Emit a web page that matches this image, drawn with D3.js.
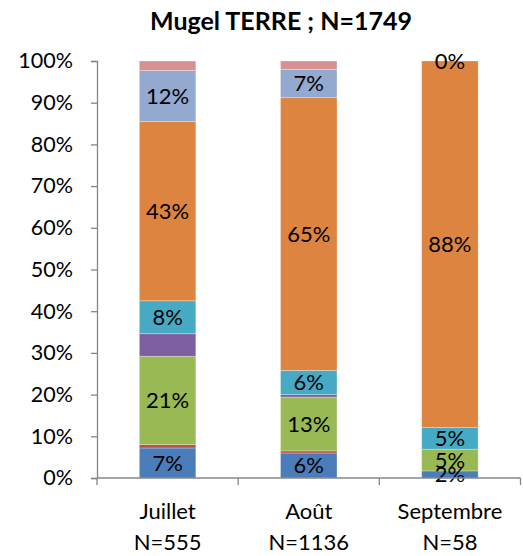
<!DOCTYPE html>
<html>
<head>
<meta charset="utf-8">
<script src="https://cdn.jsdelivr.net/npm/d3@7"></script>
<style>
  body { margin: 0; background: #fff; }
  svg { display: block; font-family: Lato, "Noto Sans", sans-serif; }
</style>
</head>
<body>
<svg id="chart"></svg>
<script>
// categories
const months = ["Juillet", "Août", "Septembre"]
const counts = ["N=555", "N=1136", "N=58"]

// series values (% of each month), bottom to top
const bleu      = [7.2, 6.0, 1.7]
const rouge     = [0.8, 0.5, 0]
const vert      = [21.2, 12.9, 5.2]
const violet    = [5.4, 0.6, 0]
const turquoise = [7.9, 5.8, 5.2]
const orange    = [43.0, 65.4, 87.9]
const bleuClair = [12.2, 6.8, 0]
const rose      = [2.3, 2.0, 0]

const yTicks = [0, 10, 20, 30, 40, 50, 60, 70, 80, 90, 100]

const seriesKeys = ["bleu", "rouge", "vert", "violet", "turquoise", "orange", "bleuClair", "rose"]
const seriesValues = { bleu, rouge, vert, violet, turquoise, orange, bleuClair, rose }
const labelled = ["bleu", "vert", "turquoise", "orange", "bleuClair"]
const colors = {
    bleu: "#4a7dba", rouge: "#be4b48", vert: "#98b954", violet: "#7d5fa0",
    turquoise: "#46aac5", orange: "#dd8440", bleuClair: "#93a9d0", rose: "#d69293"
}

const width = 523, height = 556
const margin = ({top: 61, right: 2, bottom: 78, left: 97})

const table = months.map((m, i) => {
    const row = { month: m }
    seriesKeys.forEach(k => row[k] = seriesValues[k][i])
    return row
})
const stacked = d3.stack().keys(seriesKeys)(table)

const svg = d3.select("#chart").attr("width", width).attr("height", height)

const x = d3.scaleBand()
    .domain(months)
    .range([margin.left, width - margin.right - 0.5])
    .paddingInner(0.6)
    .paddingOuter(0.3)

const y = d3.scaleLinear()
    .domain([0, 100])
    .range([height - margin.bottom, margin.top])

// bars
svg.append("g")
    .selectAll("g")
    .data(stacked)
    .join("g")
    .attr("fill", d => colors[d.key])
    .selectAll("rect")
    .data(d => d)
    .join("rect")
    .attr("x", d => x(d.data.month))
    .attr("width", x.bandwidth())
    .attr("y", d => y(d[1]))
    .attr("height", d => y(d[0]) - y(d[1]))
    .attr("stroke", "#fff")
    .attr("stroke-opacity", 0.35)
    .attr("stroke-width", 0.8)

// data labels
svg.append("g")
    .selectAll("g")
    .data(stacked.filter(s => labelled.includes(s.key)))
    .join("g")
    .selectAll("text")
    .data(d => d)
    .join("text")
    .attr("x", d => x(d.data.month) + x.bandwidth() / 2)
    .attr("y", d => y((d[0] + d[1]) / 2))
    .attr("dy", "0.36em")
    .attr("text-anchor", "middle")
    .attr("font-size", 22)
    .attr("fill", "#000")
    .text(d => Math.round(d[1] - d[0]) + "%")

// y axis
svg.append("g")
    .attr("transform", `translate(${margin.left},0)`)
    .call(d3.axisLeft(y).tickValues(yTicks).tickSize(6).tickPadding(18).tickFormat(d => d + "%"))
    .call(g => g.selectAll("line, path").attr("stroke", "#868686").attr("stroke-width", 1.3))
    .call(g => g.selectAll("text").attr("font-size", 21.5).attr("fill", "#000").attr("font-family", "Lato"))

// x axis line + boundary ticks
const step = x.step()
const bounds = [x(months[0]) - step * x.paddingInner() / 2].concat(months.map(m => x(m) + x.bandwidth() + step * x.paddingInner() / 2))
const xg = svg.append("g").attr("transform", `translate(0,${y(0)})`)
xg.append("line")
    .attr("x1", margin.left).attr("x2", bounds[bounds.length - 1])
    .attr("stroke", "#868686").attr("stroke-width", 1.3)
xg.selectAll(".bt")
    .data(bounds)
    .join("line")
    .attr("x1", d => d).attr("x2", d => d)
    .attr("y1", 0).attr("y2", 7)
    .attr("stroke", "#868686").attr("stroke-width", 1.3)

// category labels
const cat = svg.append("g")
    .selectAll("text")
    .data(months)
    .join("text")
    .attr("text-anchor", "middle")
    .attr("font-size", 22)
    .attr("fill", "#000")
cat.append("tspan")
    .attr("x", d => x(d) + x.bandwidth() / 2)
    .attr("y", 519)
    .text(d => d)
cat.append("tspan")
    .attr("x", d => x(d) + x.bandwidth() / 2)
    .attr("y", 550)
    .text((d, i) => counts[i])

// title
svg.append("text")
    .attr("x", 281)
    .attr("y", 30)
    .attr("text-anchor", "middle")
    .attr("font-size", 25)
    .attr("font-weight", "bold")
    .text("Mugel TERRE ; N=1749")
</script>
</body>
</html>
